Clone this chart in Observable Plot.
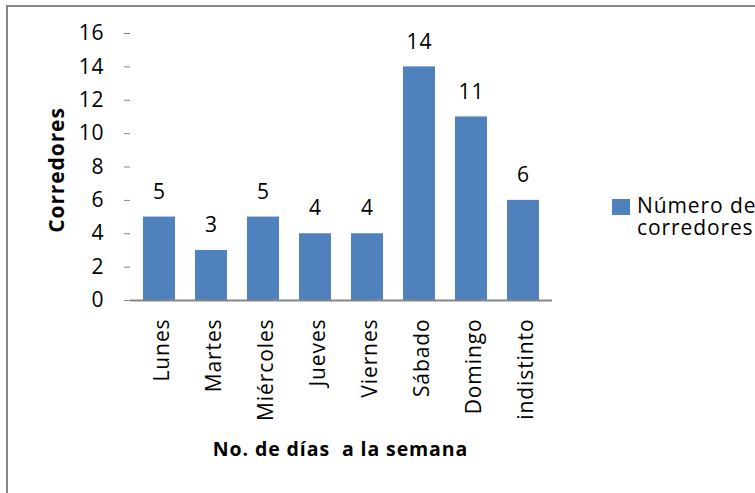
<!DOCTYPE html>
<html>
<head>
<meta charset="utf-8">
<script src="https://cdn.jsdelivr.net/npm/d3@7"></script>
<script src="https://cdn.jsdelivr.net/npm/@observablehq/plot@0.6"></script>
<style>
  html, body { margin: 0; padding: 0; background: #fff; overflow: hidden; width: 755px; height: 493px; }
  #wrap { position: relative; width: 755px; height: 493px; font-family: "Open Sans", sans-serif; }
  #frame { position: absolute; left: 6px; top: 5px; width: 900px; height: 700px; border: 2px solid #878787; box-sizing: border-box; }
  #chart { position: absolute; left: 0; top: 0; }
  #legend { position: absolute; left: 612px; top: 194px; font-size: 21px; line-height: 20px; color: #000; white-space: nowrap; letter-spacing: 0.9px; }
  #legend .sw { position: absolute; left: 0; top: 5px; width: 18px; height: 16px; background: #4F81BD; }
  #legend .l1 { position: absolute; left: 25px; top: 1px; }
  #legend .l2 { position: absolute; left: 25px; top: 23px; }
</style>
</head>
<body>
<div id="wrap">
  <div id="frame"></div>
  <div id="chart"></div>
  <div id="legend"><div class="sw"></div><div class="l1">Número de</div><div class="l2">corredores</div></div>
</div>
<script>
const categories = ["Lunes", "Martes", "Miércoles", "Jueves", "Viernes", "Sábado", "Domingo", "indistinto"];
const values = [5, 3, 5, 4, 4, 14, 11, 6];
const yTicks = [0, 2, 4, 6, 8, 10, 12, 14, 16];
const yTitle = "Corredores";
const xTitle = "No. de días  a la semana";

const data = categories.map((c, i) => ({ dia: c, n: values[i] }));

const chart = Plot.plot({
  width: 755,
  height: 493,
  marginLeft: 130,
  marginRight: 203,
  marginTop: 33,
  marginBottom: 193,
  style: { fontFamily: "Open Sans, sans-serif", fontSize: "21px", color: "#000", background: "transparent", letterSpacing: "0.9px" },
  x: { domain: categories, paddingInner: 0.39, paddingOuter: 0.195 },
  y: { domain: [0, 16] },
  marks: [
    Plot.barY(data, { x: "dia", y: "n", fill: "#4F81BD" }),
    Plot.axisY({ ticks: yTicks, tickSize: 6, stroke: "#868686", strokeOpacity: 1, label: null, tickFormat: () => "" }),
    Plot.text(yTicks, { y: d => d, text: d => String(d), frameAnchor: "left", textAnchor: "end", lineAnchor: "middle", dx: -26, fontSize: 21, fill: "#000" }),
    Plot.ruleX([0], { frameAnchor: "left", stroke: "#868686", strokeWidth: 1.5 }),
    Plot.axisX({ tickSize: 0, tickPadding: 18, tickRotate: -90, label: null, dx: 3, fontSize: 21 }),
    Plot.ruleY([0], { stroke: "#868686", strokeWidth: 2 }),
    Plot.text(data, { x: "dia", y: "n", text: d => String(d.n), dy: -25, lineAnchor: "middle", fontSize: 21, fill: "#000" }),
    Plot.text([yTitle], { frameAnchor: "left", textAnchor: "middle", lineAnchor: "middle", dx: -73, dy: 3, rotate: -90, fontWeight: "bold", fontSize: 21, fill: "#000" }),
    Plot.text([xTitle], { frameAnchor: "bottom", textAnchor: "middle", dy: 155, dx: -1, fontWeight: "bold", fontSize: 19.5, fill: "#000" })
  ]
});
document.getElementById("chart").appendChild(chart);
</script>
</body>
</html>
